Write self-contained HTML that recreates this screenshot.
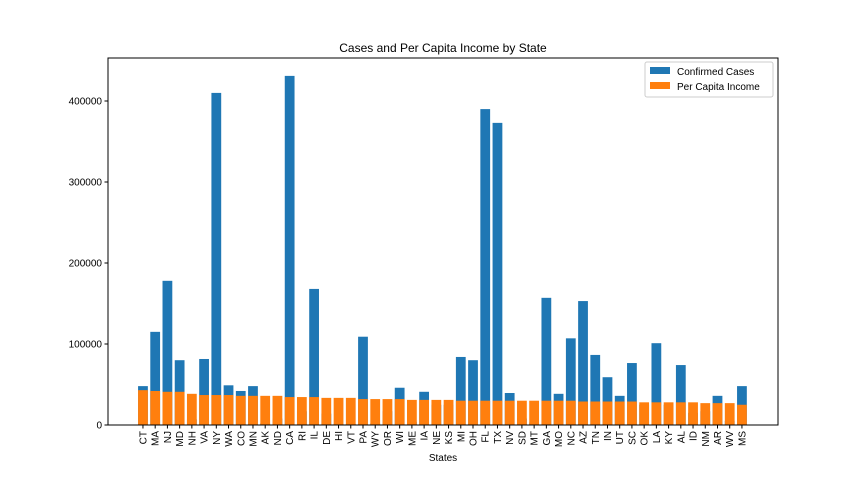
<!DOCTYPE html>
<html><head><meta charset="utf-8"><style>
body{margin:0;background:#fff;}
svg{display:block;font-family:"Liberation Sans","DejaVu Sans",sans-serif;}
</style></head><body>
<svg id="chart" width="864" height="486"></svg>
<script>
const states=["CT","MA","NJ","MD","NH","VA","NY","WA","CO","MN","AK","ND","CA","RI","IL","DE","HI","VT","PA","WY","OR","WI","ME","IA","NE","KS","MI","OH","FL","TX","NV","SD","MT","GA","MO","NC","AZ","TN","IN","UT","SC","OK","LA","KY","AL","ID","NM","AR","WV","MS"];
const cases=[48000,115000,178000,80000,7000,81500,410000,49000,42000,48000,2000,8000,431000,17000,168000,14000,1500,1300,109000,2000,17000,46000,4000,41000,25000,25000,84000,80000,390000,373000,39500,8000,3000,157000,38500,107000,153000,86500,59000,36000,76500,25000,101000,25000,74000,15000,17000,36000,5000,48000];
const income=[43000,42000,41000,41000,38500,37000,37000,37000,36000,36000,36000,36000,34500,34500,34500,33500,33500,33500,32000,32000,32000,32000,31000,31000,31000,31000,30000,30000,30000,30000,30000,30000,30000,30000,30000,30000,29000,29000,29000,29000,29000,28000,28000,28000,28000,28000,27000,27000,27000,25000];
const yTicks=[0,100000,200000,300000,400000];

const svg=document.getElementById('chart');
const NS="http://www.w3.org/2000/svg";
const L=108,R=778,T=58,B=425;
const xmin=-2.86,xmax=51.95;
function xs(i){return L+(i-xmin)/(xmax-xmin)*(R-L);}
function ys(v){return B-v*0.00081;}
function mk(tag,attrs,parent){const e=document.createElementNS(NS,tag);for(const k in attrs)e.setAttribute(k,attrs[k]);(parent||svg).appendChild(e);return e;}
const bw=0.8*(R-L)/(xmax-xmin);
const gC=mk('g',{});


cases.forEach((v,i)=>{const r=mk('rect',{x:xs(i)-bw/2,y:ys(v),width:bw,height:B-ys(v),fill:'#1f77b4'},gC);

});
const gI=mk('g',{});


income.forEach((v,i)=>{const r=mk('rect',{x:xs(i)-bw/2,y:ys(v),width:bw,height:B-ys(v),fill:'#ff7f0e'},gI);

});
const frame=mk('rect',{x:L,y:T,width:R-L,height:B-T,fill:'none',stroke:'#000','stroke-width':1});


yTicks.forEach(v=>{const y=ys(v);mk('line',{x1:L-3.5,x2:L,y1:y,y2:y,stroke:'#000'});
const t=mk('text',{x:L-6,y:y+3.5,'text-anchor':'end','font-size':10});t.textContent=v;

});
states.forEach((s,i)=>{const x=xs(i);mk('line',{x1:x,x2:x,y1:B,y2:B+3.5,stroke:'#000'});
const t=mk('text',{transform:`translate(${x+3.5},${B+6}) rotate(-90)`,'text-anchor':'end','font-size':10});t.textContent=s;

});
const title=mk('text',{x:(L+R)/2,y:52,'text-anchor':'middle','font-size':12});title.textContent='Cases and Per Capita Income by State';


const xl=mk('text',{x:(L+R)/2,y:461,'text-anchor':'middle','font-size':10});xl.textContent='States';


const lg=mk('g',{});


mk('rect',{x:645,y:62,width:128,height:35,rx:2,fill:'#fff',stroke:'#ccc'},lg);
mk('rect',{x:650,y:67,width:20,height:7,fill:'#1f77b4'},lg);
const l1=mk('text',{x:677,y:75,'font-size':10},lg);l1.textContent='Confirmed Cases';


mk('rect',{x:650,y:82,width:20,height:7,fill:'#ff7f0e'},lg);
const l2=mk('text',{x:677,y:90,'font-size':10},lg);l2.textContent='Per Capita Income';


</script>
</body></html>
